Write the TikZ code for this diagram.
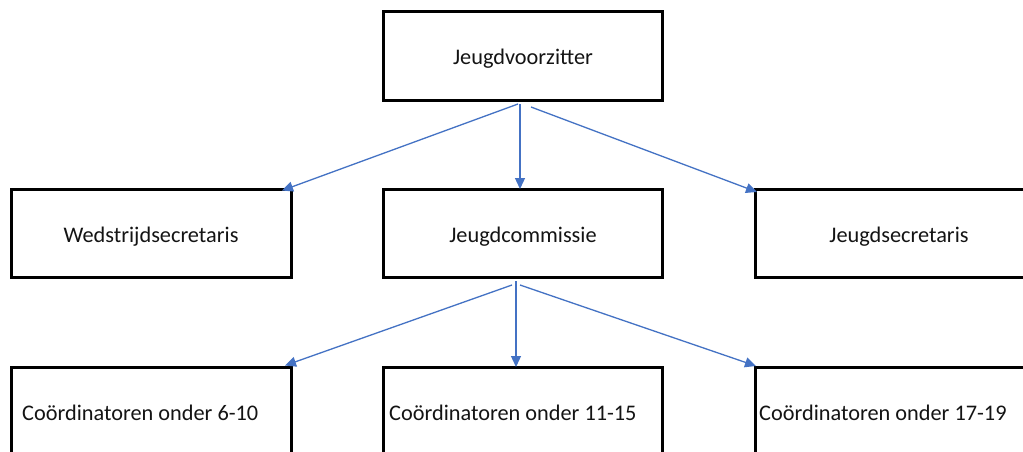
\documentclass[tikz,border=0pt]{standalone}
\usepackage{fontspec}
\setmainfont{Carlito}
\usetikzlibrary{arrows.meta,calc}
\tikzset{
  box/.style={draw=black, line width=3pt, rectangle, inner sep=0pt, outer sep=0pt, anchor=north west},
  txt/.style={inner sep=0pt, anchor=base, font=\fontsize{22.3}{26}\selectfont, text=black!92},
  ltxt/.style={txt, anchor=base west},
  conn/.style={draw={rgb,255:red,68;green,114;blue,196}, line width=1.3pt, -{Triangle[length=11pt,width=10pt]}}
}
\begin{document}
\begin{tikzpicture}[x=1pt,y=-1pt]
\useasboundingbox (0,0) rectangle (1023,452);
\clip (0,0) rectangle (1023,452);
\fill[white] (0,0) rectangle (1023,452);
% boxes
\node[box, minimum width=279pt, minimum height=88pt] (top) at (383,12) {};
\node[box, minimum width=280pt, minimum height=88pt] (wed) at (11,189) {};
\node[box, minimum width=279pt, minimum height=88pt] (com) at (383,189) {};
\node[box, minimum width=288pt, minimum height=88pt] (sec) at (755,189) {};
\node[box, minimum width=280pt, minimum height=100pt] (c1) at (11,367) {};
\node[box, minimum width=279pt, minimum height=100pt] (c2) at (383,367) {};
\node[box, minimum width=288pt, minimum height=100pt] (c3) at (755,367) {};
% texts
\node[txt] (ttop) at (523,65) {Jeugdvoorzitter};
\node[txt] (twed) at (151,242) {Wedstrijdsecretaris};
\node[txt] (tcom) at (523,242) {Jeugdcommissie};
\node[txt] (tsec) at (899,242) {Jeugdsecretaris};
\node[ltxt] (tc1) at (22,420) {Coördinatoren onder 6-10};
\node[ltxt] (tc2) at (389,420) {Coördinatoren onder 11-15};
\node[ltxt] (tc3) at (759,420) {Coördinatoren onder 17-19};
% connector start points
\coordinate (s1) at (518,104);
\coordinate (s2) at (520,104);
\coordinate (s3) at (531,107);
\coordinate (b1) at (512,285);
\coordinate (b2) at (516,281);
\coordinate (b3) at (520,285);
% connectors
\draw[conn] (s1) -- ($(wed.north east)+(-9,1.5)$);
\draw[conn] (s2) -- ($(com.north west)+(137,0)$);
\draw[conn] (s3) -- ($(sec.north west)+(2,3)$);
\draw[conn] (b1) -- ($(c1.north east)+(-6,-1.5)$);
\draw[conn] (b2) -- ($(c2.north west)+(133,0)$);
\draw[conn] (b3) -- ($(c3.north west)+(1,-1)$);
\end{tikzpicture}
\end{document}
